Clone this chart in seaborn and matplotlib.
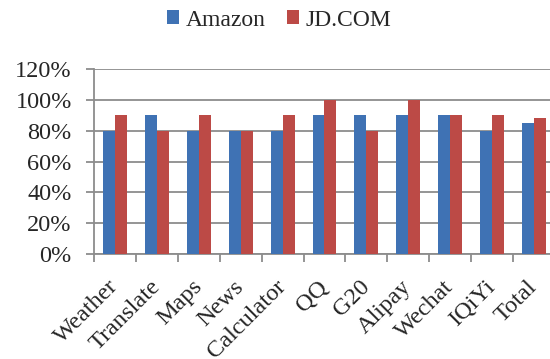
import pandas as pd
import numpy as np
import seaborn as sns
import matplotlib.pyplot as plt
import matplotlib.transforms as mtransforms
from matplotlib.ticker import FixedLocator, PercentFormatter

# values (percent)
apps = ['Weather', 'Translate', 'Maps', 'News', 'Calculator', 'QQ', 'G20',
        'Alipay', 'Wechat', 'IQiYi', 'Total']
amazon = [80, 90, 80, 80, 80, 90, 90, 90, 90, 80, 85]
jd_com = [90, 80, 90, 80, 90, 100, 80, 100, 90, 90, 88]
yticks = [0, 20, 40, 60, 80, 100, 120]

df = pd.DataFrame({'app': apps * 2,
                   'score': amazon + jd_com,
                   'store': ['Amazon'] * len(apps) + ['JD.COM'] * len(apps)})

sns.set_style('white')
plt.rcParams['font.family'] = ['Liberation Serif', 'DejaVu Serif']

fig = plt.figure(figsize=(5.5, 3.59), dpi=100)
ax = fig.add_axes([0.171, 0.2925, 0.838, 0.515])

sns.barplot(data=df, x='app', y='score', hue='store',
            palette={'Amazon': '#3f72b4', 'JD.COM': '#bc4a46'},
            width=0.57, gap=0, saturation=1, linewidth=0, ax=ax, zorder=3)

ax.set_ylim(0, 120)
ax.set_xlim(-0.5, len(apps) - 0.5)
ax.yaxis.set_major_locator(FixedLocator(yticks))
ax.yaxis.set_major_formatter(PercentFormatter(decimals=0))
ax.grid(axis='y', color='#8c8c8c', linewidth=1.3, zorder=0)
ax.set_xlabel('')
ax.set_ylabel('')

for side in ['top', 'right']:
    ax.spines[side].set_visible(False)
for side in ['left', 'bottom']:
    ax.spines[side].set_color('#8c8c8c')
    ax.spines[side].set_linewidth(1.3)

# ticks between categories, labels at centres
ax.xaxis.set_minor_locator(FixedLocator(np.arange(-0.5, len(apps), 1)))
ax.tick_params(axis='x', which='major', length=0, labelsize=17.5, pad=12)
ax.tick_params(axis='x', which='minor', length=6, color='#8c8c8c', width=1.3, bottom=True)
ax.tick_params(axis='y', length=6, color='#8c8c8c', width=1.3, labelsize=17.5, pad=10, left=True)
shift = mtransforms.ScaledTranslation(0.0, -0.13, fig.dpi_scale_trans)
for lbl in ax.get_xticklabels():
    lbl.set_rotation(45)
    lbl.set_ha('right')
    lbl.set_va('center')
    lbl.set_rotation_mode('anchor')
    lbl.set_transform(lbl.get_transform() + shift)

handles, labels = ax.get_legend_handles_labels()
ax.get_legend().remove()
fig.legend(handles, labels, loc='center', bbox_to_anchor=(0.508, 0.944), ncol=2, frameon=False,
           fontsize=17, handlelength=0.5, handleheight=0.55, handletextpad=0.3,
           columnspacing=0.9)

fig.savefig('out.png', dpi=100)
